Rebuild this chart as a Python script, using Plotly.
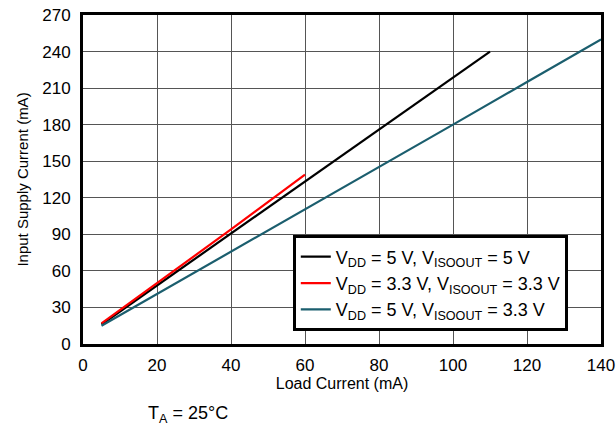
import plotly.graph_objects as go

# load current (mA) and input supply current (mA)
load_5v_5v = [5, 20, 40, 60, 80, 110]
supply_5v_5v = [16, 48, 91, 133, 176, 240]

load_33_33 = [5, 20, 40, 60]
supply_33_33 = [17, 50, 94, 139]

load_5v_33 = [5, 20, 40, 60, 80, 100, 120, 140]
supply_5v_33 = [15, 41, 76, 110, 145, 180, 215, 250]

names = ["V<sub>DD</sub> = 5 V, V<sub>ISOOUT</sub> = 5 V",
         "V<sub>DD</sub> = 3.3 V, V<sub>ISOOUT</sub> = 3.3 V",
         "V<sub>DD</sub> = 5 V, V<sub>ISOOUT</sub> = 3.3 V"]
colors = ["#000000", "#ff0000", "#1b5e6e"]

fig = go.Figure()
fig.add_trace(go.Scatter(x=load_5v_5v, y=supply_5v_5v, mode="lines", name=names[0],
                         line=dict(color=colors[0], width=2.2)))
fig.add_trace(go.Scatter(x=load_33_33, y=supply_33_33, mode="lines", name=names[1],
                         line=dict(color=colors[1], width=2.2)))
fig.add_trace(go.Scatter(x=load_5v_33, y=supply_5v_33, mode="lines", name=names[2],
                         line=dict(color=colors[2], width=2.2)))

axis_style = dict(showgrid=True, gridcolor="#555555", gridwidth=1, showline=True,
                  linecolor="black", linewidth=3, mirror=True, zeroline=False,
                  automargin=False, ticklabeloverflow="allow",
                  ticks="", tickfont=dict(size=17, color="black"))
fig.update_xaxes(range=[0, 140], dtick=20, ticklabelstandoff=4,
                 title=dict(text="Load Current (mA)", standoff=4,
                            font=dict(size=16, color="black")), **axis_style)
fig.update_yaxes(range=[0, 270], dtick=30, ticklabelstandoff=6,
                 title=dict(text="Input Supply Current (mA)", standoff=10,
                            font=dict(size=15, color="black")), **axis_style)

fig.update_layout(
    width=616, height=429, autosize=False,
    margin=dict(l=83, r=15, t=15, b=85),
    plot_bgcolor="white", paper_bgcolor="white",
    font=dict(family="Liberation Sans, Arial, sans-serif", color="black"),
    legend=dict(x=0.405, y=0.33, xanchor="left", yanchor="top",
                bordercolor="black", borderwidth=3, bgcolor="white",
                font=dict(size=18), tracegroupgap=0, itemwidth=30),
)
fig.add_annotation(text="T<sub>A</sub> = 25°C", x=0.203, y=-0.213, xref="paper", yref="paper",
                   xanchor="center", yanchor="middle", showarrow=False, font=dict(size=18))

# drop the browser's default body margin so the figure fills the window
html = fig.to_html(config={"displayModeBar": False, "responsive": False})
html = html.replace("<body>", '<body style="margin:0;overflow:hidden">', 1)
with open("out.html", "w", encoding="utf-8") as f:
    f.write(html)
